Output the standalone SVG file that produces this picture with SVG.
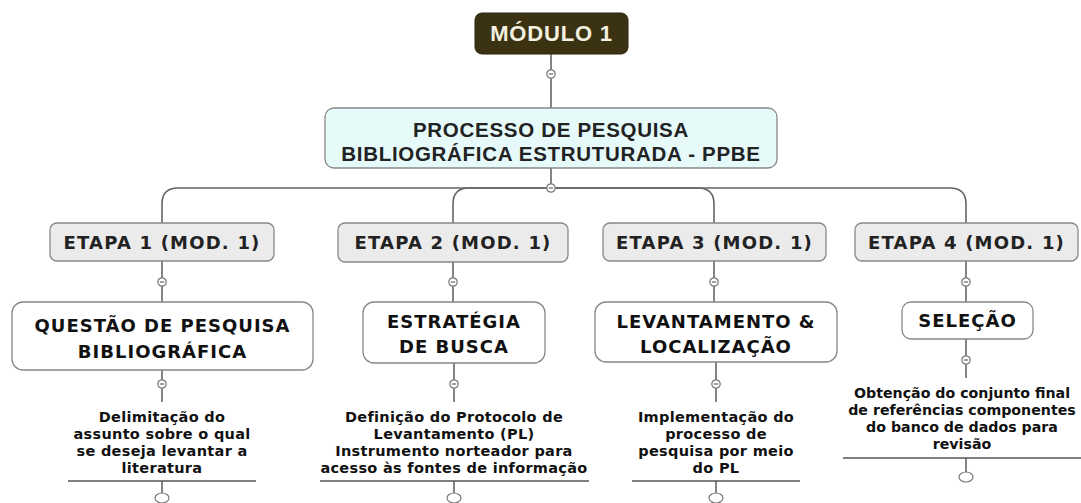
<svg xmlns="http://www.w3.org/2000/svg" width="1081" height="503" viewBox="0 0 1081 503">
<style>
.con{fill:none;stroke:#666;stroke-width:1.6}
.mk{fill:#fff;stroke:#777;stroke-width:1.2}
.mkl{stroke:#666;stroke-width:1.2}
.etapa{fill:#ebebeb;stroke:#888;stroke-width:1.3}
.sub{fill:#fff;stroke:#888;stroke-width:1.3}
.te{font-family:"DejaVu Sans",Verdana,sans-serif;font-weight:bold;font-size:18px;fill:#222;text-anchor:middle;letter-spacing:1.2px}
.ts{font-family:"DejaVu Sans",Verdana,sans-serif;font-weight:bold;font-size:18px;fill:#111;text-anchor:middle;letter-spacing:1px}
.tl{font-family:"DejaVu Sans",Verdana,sans-serif;font-weight:bold;font-size:14.5px;fill:#111;text-anchor:middle;letter-spacing:0.3px}
.tl4{letter-spacing:0;font-size:14.2px}
.ul{stroke:#555;stroke-width:1.6}
</style>
<defs>
<g id="minus"><circle r="4.2" class="mk"/><line x1="-2.2" y1="0" x2="2.2" y2="0" class="mkl"/></g>
<g id="plus"><ellipse rx="7" ry="5" class="mk"/></g>
</defs>
<g id="connectors">
<line x1="551" y1="54" x2="551" y2="108" class="con"/>
<line x1="551" y1="168" x2="551" y2="188" class="con"/>
<path d="M551,188 H178 Q162,188 162,204 V223" class="con"/>
<path d="M551,188 H469 Q453,188 453,204 V223" class="con"/>
<path d="M551,188 H698 Q714,188 714,204 V223" class="con"/>
<path d="M551,188 H950 Q966,188 966,204 V223" class="con"/>
<line x1="162" y1="261" x2="162" y2="302" class="con"/>
<line x1="453" y1="262" x2="453" y2="302" class="con"/>
<line x1="714" y1="261" x2="714" y2="302" class="con"/>
<line x1="966" y1="261" x2="966" y2="302" class="con"/>
<line x1="162" y1="370" x2="162" y2="402" class="con"/>
<line x1="454" y1="363" x2="454" y2="402" class="con"/>
<line x1="716" y1="362" x2="716" y2="402" class="con"/>
<line x1="966" y1="339" x2="966" y2="378" class="con"/>
<line x1="162" y1="481" x2="162" y2="493" class="con"/>
<line x1="454" y1="481" x2="454" y2="493" class="con"/>
<line x1="716" y1="481" x2="716" y2="493" class="con"/>
<line x1="966" y1="458" x2="966" y2="473" class="con"/>
<use href="#minus" x="551" y="74"/>
<use href="#minus" x="551" y="188"/>
<use href="#minus" x="162" y="282"/>
<use href="#minus" x="453" y="282"/>
<use href="#minus" x="714" y="282"/>
<use href="#minus" x="966" y="282"/>
<use href="#minus" x="162" y="384"/>
<use href="#minus" x="454" y="384"/>
<use href="#minus" x="716" y="384"/>
<use href="#minus" x="966" y="360"/>
<use href="#plus" x="162" y="498"/>
<use href="#plus" x="454" y="498"/>
<use href="#plus" x="716" y="498"/>
<use href="#plus" x="966" y="477"/>
</g>
<g id="modulo1">
<rect x="475" y="13" width="153" height="41" rx="7" fill="#3b3212" stroke="#2a230c" stroke-width="1"/>
<text x="551.5" y="41" font-family="'Liberation Sans',Arial,sans-serif" font-weight="bold" font-size="22" fill="#f4f0e0" text-anchor="middle" letter-spacing="0.8">MÓDULO 1</text>
</g>
<g id="ppbe">
<rect x="325" y="108" width="452" height="60" rx="9" fill="#e6fafa" stroke="#888" stroke-width="1.3"/>
<text font-family="'Liberation Sans',Arial,sans-serif" font-weight="bold" font-size="20.5" fill="#222" text-anchor="middle" letter-spacing="0.7"><tspan x="551" y="137">PROCESSO DE PESQUISA</tspan><tspan x="551" y="161">BIBLIOGRÁFICA ESTRUTURADA - PPBE</tspan></text>
</g>
<g id="etapa1"><rect x="50" y="223" width="224" height="38" rx="7" class="etapa"/><text x="162" y="249" class="te">ETAPA 1 (MOD. 1)</text></g>
<g id="etapa2"><rect x="338" y="223" width="230" height="39" rx="7" class="etapa"/><text x="453" y="249" class="te">ETAPA 2 (MOD. 1)</text></g>
<g id="etapa3"><rect x="603" y="223" width="223" height="38" rx="7" class="etapa"/><text x="714.5" y="249" class="te">ETAPA 3 (MOD. 1)</text></g>
<g id="etapa4"><rect x="855" y="223" width="223" height="38" rx="7" class="etapa"/><text x="966.5" y="249" class="te">ETAPA 4 (MOD. 1)</text></g>
<g id="questao"><rect x="12" y="302" width="301" height="68" rx="11" class="sub"/><text class="ts"><tspan x="162.5" y="332">QUESTÃO DE PESQUISA</tspan><tspan x="162.5" y="358">BIBLIOGRÁFICA</tspan></text></g>
<g id="estrategia"><rect x="363" y="302" width="182" height="61" rx="11" class="sub"/><text class="ts"><tspan x="454" y="328">ESTRATÉGIA</tspan><tspan x="454" y="353">DE BUSCA</tspan></text></g>
<g id="levantamento"><rect x="595" y="302" width="242" height="60" rx="11" class="sub"/><text class="ts"><tspan x="716" y="328">LEVANTAMENTO &amp;</tspan><tspan x="716" y="353">LOCALIZAÇÃO</tspan></text></g>
<g id="selecao"><rect x="902" y="302" width="131" height="37" rx="9" class="sub"/><text x="967.5" y="327" class="ts">SELEÇÃO</text></g>
<g id="leaf1"><text class="tl"><tspan x="162" y="422">Delimitação do</tspan><tspan x="162" y="439">assunto sobre o qual</tspan><tspan x="162" y="456">se deseja levantar a</tspan><tspan x="162" y="473">literatura</tspan></text><line x1="68" y1="481" x2="256" y2="481" class="ul"/></g>
<g id="leaf2"><text class="tl"><tspan x="454" y="422">Definição do Protocolo de</tspan><tspan x="454" y="439">Levantamento (PL)</tspan><tspan x="454" y="456">Instrumento norteador para</tspan><tspan x="454" y="473">acesso às fontes de informação</tspan></text><line x1="320" y1="481" x2="589" y2="481" class="ul"/></g>
<g id="leaf3"><text class="tl"><tspan x="716" y="422">Implementação do</tspan><tspan x="716" y="439">processo de</tspan><tspan x="716" y="456">pesquisa por meio</tspan><tspan x="716" y="473">do PL</tspan></text><line x1="632" y1="481" x2="800" y2="481" class="ul"/></g>
<g id="leaf4"><text class="tl tl4"><tspan x="962" y="398">Obtenção do conjunto final</tspan><tspan x="962" y="415">de referências componentes</tspan><tspan x="962" y="432">do banco de dados para</tspan><tspan x="962" y="449">revisão</tspan></text><line x1="843" y1="458" x2="1081" y2="458" class="ul"/></g>
</svg>
